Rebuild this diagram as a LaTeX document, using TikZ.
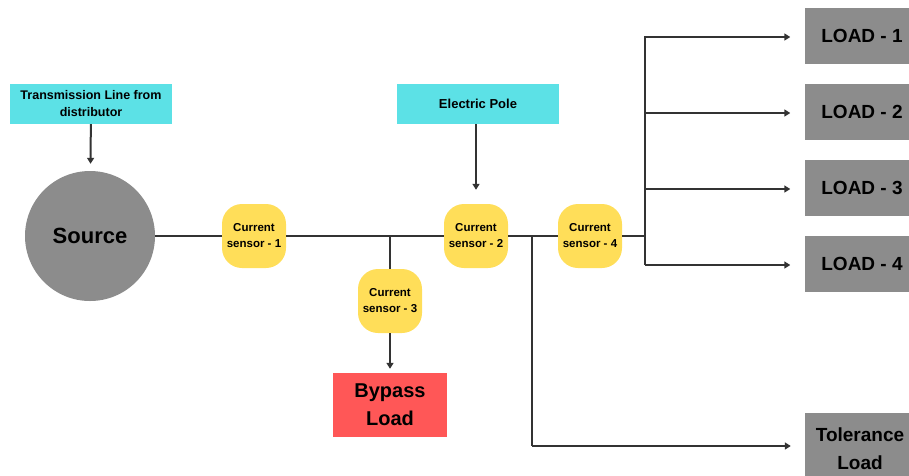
\documentclass[tikz,border=0pt]{standalone}
\usepackage{fontspec}
\setmainfont{Liberation Sans}
\usetikzlibrary{arrows.meta}
\definecolor{PoleCyan}{HTML}{5CE1E6}
\definecolor{SensorYellow}{HTML}{FFDE59}
\definecolor{BypassRed}{HTML}{FF5757}
\definecolor{LoadGrey}{HTML}{8C8C8C}
\definecolor{WireGrey}{HTML}{333333}
\begin{document}
\begin{tikzpicture}[x=1pt,y=-1pt,
	wire/.style={draw=WireGrey,line width=2pt},
	feed/.style={wire,-{Triangle[width=7pt,length=6pt]}},
	info/.style={fill=PoleCyan,minimum width=162pt,minimum height=40pt,align=center,font=\fontsize{12.5}{17}\selectfont\bfseries},
	sensor/.style={fill=SensorYellow,rounded corners=20pt,minimum width=64pt,minimum height=64pt,align=center,inner sep=1pt,font=\fontsize{11.5}{16}\selectfont\bfseries},
	loadbox/.style={fill=LoadGrey,minimum width=115pt,minimum height=56pt,align=center,font=\fontsize{19}{28}\selectfont\bfseries}]
	\useasboundingbox (0,0) rectangle (909,475);
	\clip (0,0) rectangle (909,475);
	\node[info] (tline) at (91,104) {Transmission Line from\\distributor};
	\node[info,font=\fontsize{13}{15}\selectfont\bfseries] (pole) at (478,104) {Electric Pole};
	\node[circle,fill=LoadGrey,minimum size=130pt,font=\fontsize{22}{26}\selectfont\bfseries] (src) at (90,236) {Source};
	\foreach \X/\Y/\Z in {254/236/1, 476/236/2, 390/301/3, 590/236/4}
	{\node[sensor] (cs\Z) at (\X,\Y) {Current\\sensor - \Z};}
	\node[fill=BypassRed,minimum width=114pt,minimum height=64pt,align=center,font=\fontsize{20}{28}\selectfont\bfseries] (bypass) at (390,405) {Bypass\\Load};
	\foreach \Y [count=\Z] in {36,112,188,264}
	{\node[loadbox] (load\Z) at (862,\Y) {LOAD - \Z};}
	\node[loadbox,minimum width=110pt,minimum height=72pt] (tol) at (860,449) {Tolerance\\Load};
	\coordinate (j3) at (390,236);
	\coordinate (j2) at (532,236);
	\coordinate (t2) at (532,446);
	\coordinate (bus) at (645,236);
	\draw[wire] (src) -- (cs1) -- (cs2);
	\draw[wire] (cs2) -- (cs4);
	\draw[wire] (cs4) -- (bus);
	\draw[wire] (j3) -- (cs3);
	\draw[wire] (j2) -- (t2);
	\draw[wire] (645,36) -- (645,265);
	\draw[feed,shorten >=7pt] (tline) -- (src);
	\draw[feed,shorten >=14pt] (pole.south -| cs2) -- (cs2);
	\draw[feed,shorten >=4pt] (cs3) -- (bypass);
	\draw[feed,shorten >=14pt] (t2) -- (t2 -| tol.west);
	\foreach \Y [count=\Z] in {37,113,189,265}
	{\draw[feed,shorten >=14pt] (645,\Y) -- (645,\Y -| load\Z.west);}
\end{tikzpicture}
\end{document}
